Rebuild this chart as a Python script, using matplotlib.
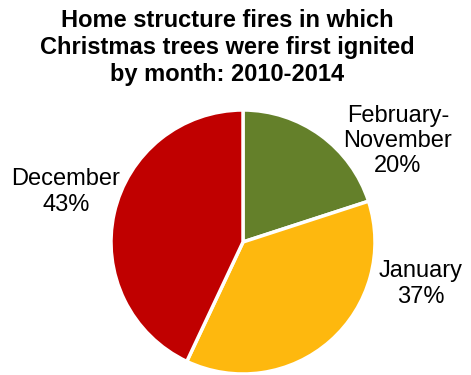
import matplotlib.pyplot as plt

# -- Data --
months = ["February-\nNovember", "January", "December"]
shares = [20, 37, 43]
colors = ["#64802A", "#FEB80E", "#C00000"]
title = "Home structure fires in which\nChristmas trees were first ignited\nby month: 2010-2014"

plt.rcParams['font.family'] = ['Liberation Sans', 'DejaVu Sans']

def main():
    fig = plt.figure(figsize=(4.71, 3.75), dpi=100)
    # pie centred at (243, 242) px with radius 132 px
    W, H = 471, 375
    cx, cy, r = 243, 242, 132
    ax = fig.add_axes([(cx - r) / W, (H - cy - r) / H, 2 * r / W, 2 * r / H])
    ax.pie(shares, colors=colors, startangle=90, counterclock=False,
           radius=1, wedgeprops=dict(edgecolor='white', linewidth=2.5))
    ax.set_xlim(-1, 1)
    ax.set_ylim(-1, 1)
    ax.set_aspect('equal')
    ax.axis('off')

    # label positions in pie units
    label_pos = [(1.174, 0.765), (1.348, -0.318), (-1.341, 0.379)]
    for name, val, (x, y) in zip(months, shares, label_pos):
        ax.text(x, y, f"{name}\n{val}%", ha='center', va='center', fontsize=17,
                linespacing=1.2, clip_on=False)

    fig.text(227 / W, 1 - 47.5 / H, title, ha='center', va='center', fontsize=17,
             fontweight='bold', linespacing=1.2)
    fig.savefig("out.png", dpi=100)

if __name__ == "__main__":
    main()
